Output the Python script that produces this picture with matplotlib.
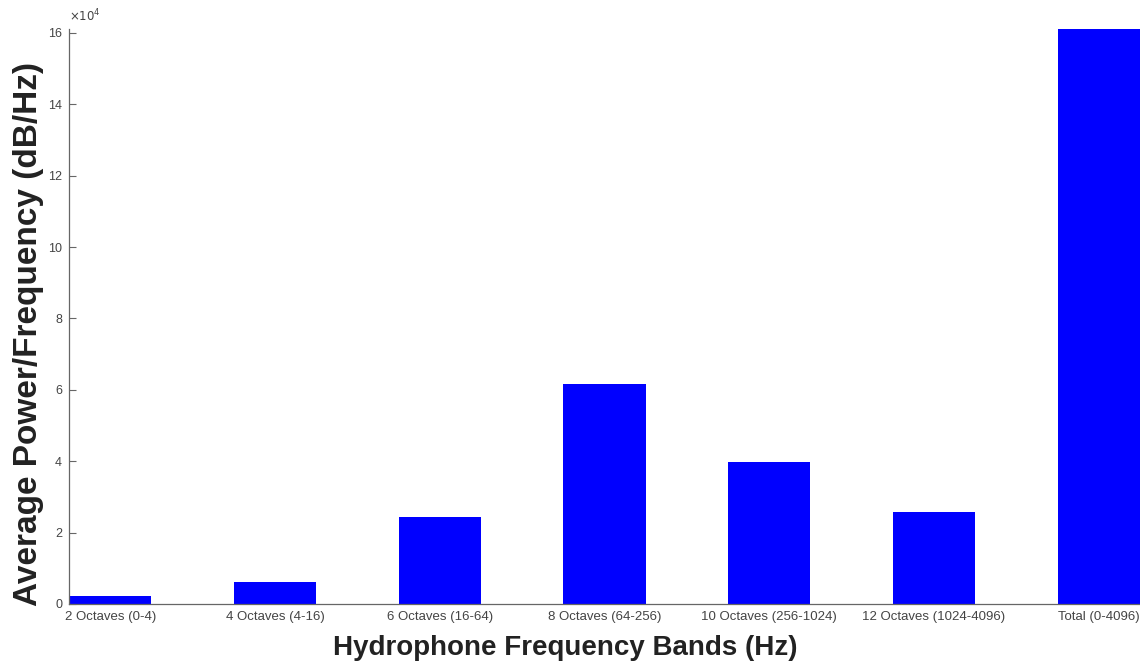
import matplotlib
matplotlib.use("Agg")
import matplotlib.pyplot as plt
from matplotlib.ticker import FuncFormatter

categories = ["2 Octaves (0-4)", "4 Octaves (4-16)", "6 Octaves (16-64)",
              "8 Octaves (64-256)", "10 Octaves (256-1024)",
              "12 Octaves (1024-4096)", "Total (0-4096)"]
values = [2200, 6100, 24500, 61700, 39700, 25900, 161200]
yticks = [0, 20000, 40000, 60000, 80000, 100000, 120000, 140000, 160000]

plt.rcParams['font.family'] = ['Liberation Sans', 'DejaVu Sans']

fig = plt.figure(figsize=(11.4, 6.66), dpi=100)
ax = fig.add_axes([69/1140, 1-604/666, 1-69/1140, 575/666])

x = list(range(len(categories)))
ax.bar(x, values, width=0.5, color='#0000ff', edgecolor='none')

ax.set_xlim(-0.25, 6.25)
ax.set_ylim(0, 161100)
ax.set_xticks(x)
ax.set_xticklabels(categories, fontsize=9.5, color='#444444')
ax.set_yticks(yticks)
ax.yaxis.set_major_formatter(FuncFormatter(lambda v, p: f"{v/1e4:g}"))
ax.tick_params(axis='y', labelsize=9, labelcolor='#444444', direction='in',
               length=5, color='#666666', width=0.8, pad=5)
ax.tick_params(axis='x', length=0, pad=5)

for s in ['top', 'right']:
    ax.spines[s].set_visible(False)
for s in ['left', 'bottom']:
    ax.spines[s].set_color('#666666')
    ax.spines[s].set_linewidth(0.9)

ax.text(0.0, 1.008, r"$\times10^{4}$", transform=ax.transAxes, fontsize=8.5,
        color='#444444', ha='left', va='bottom')

fig.text(565/1140, 1-648/666, "Hydrophone Frequency Bands (Hz)", fontsize=20,
         fontweight='bold', color='#222222', ha='center', va='center')
fig.text(29/1140, 1-334/666, "Average Power/Frequency (dB/Hz)", fontsize=24,
         fontweight='bold', color='#222222', ha='center', va='center',
         rotation=90)

fig.savefig("out.png", dpi=100)
